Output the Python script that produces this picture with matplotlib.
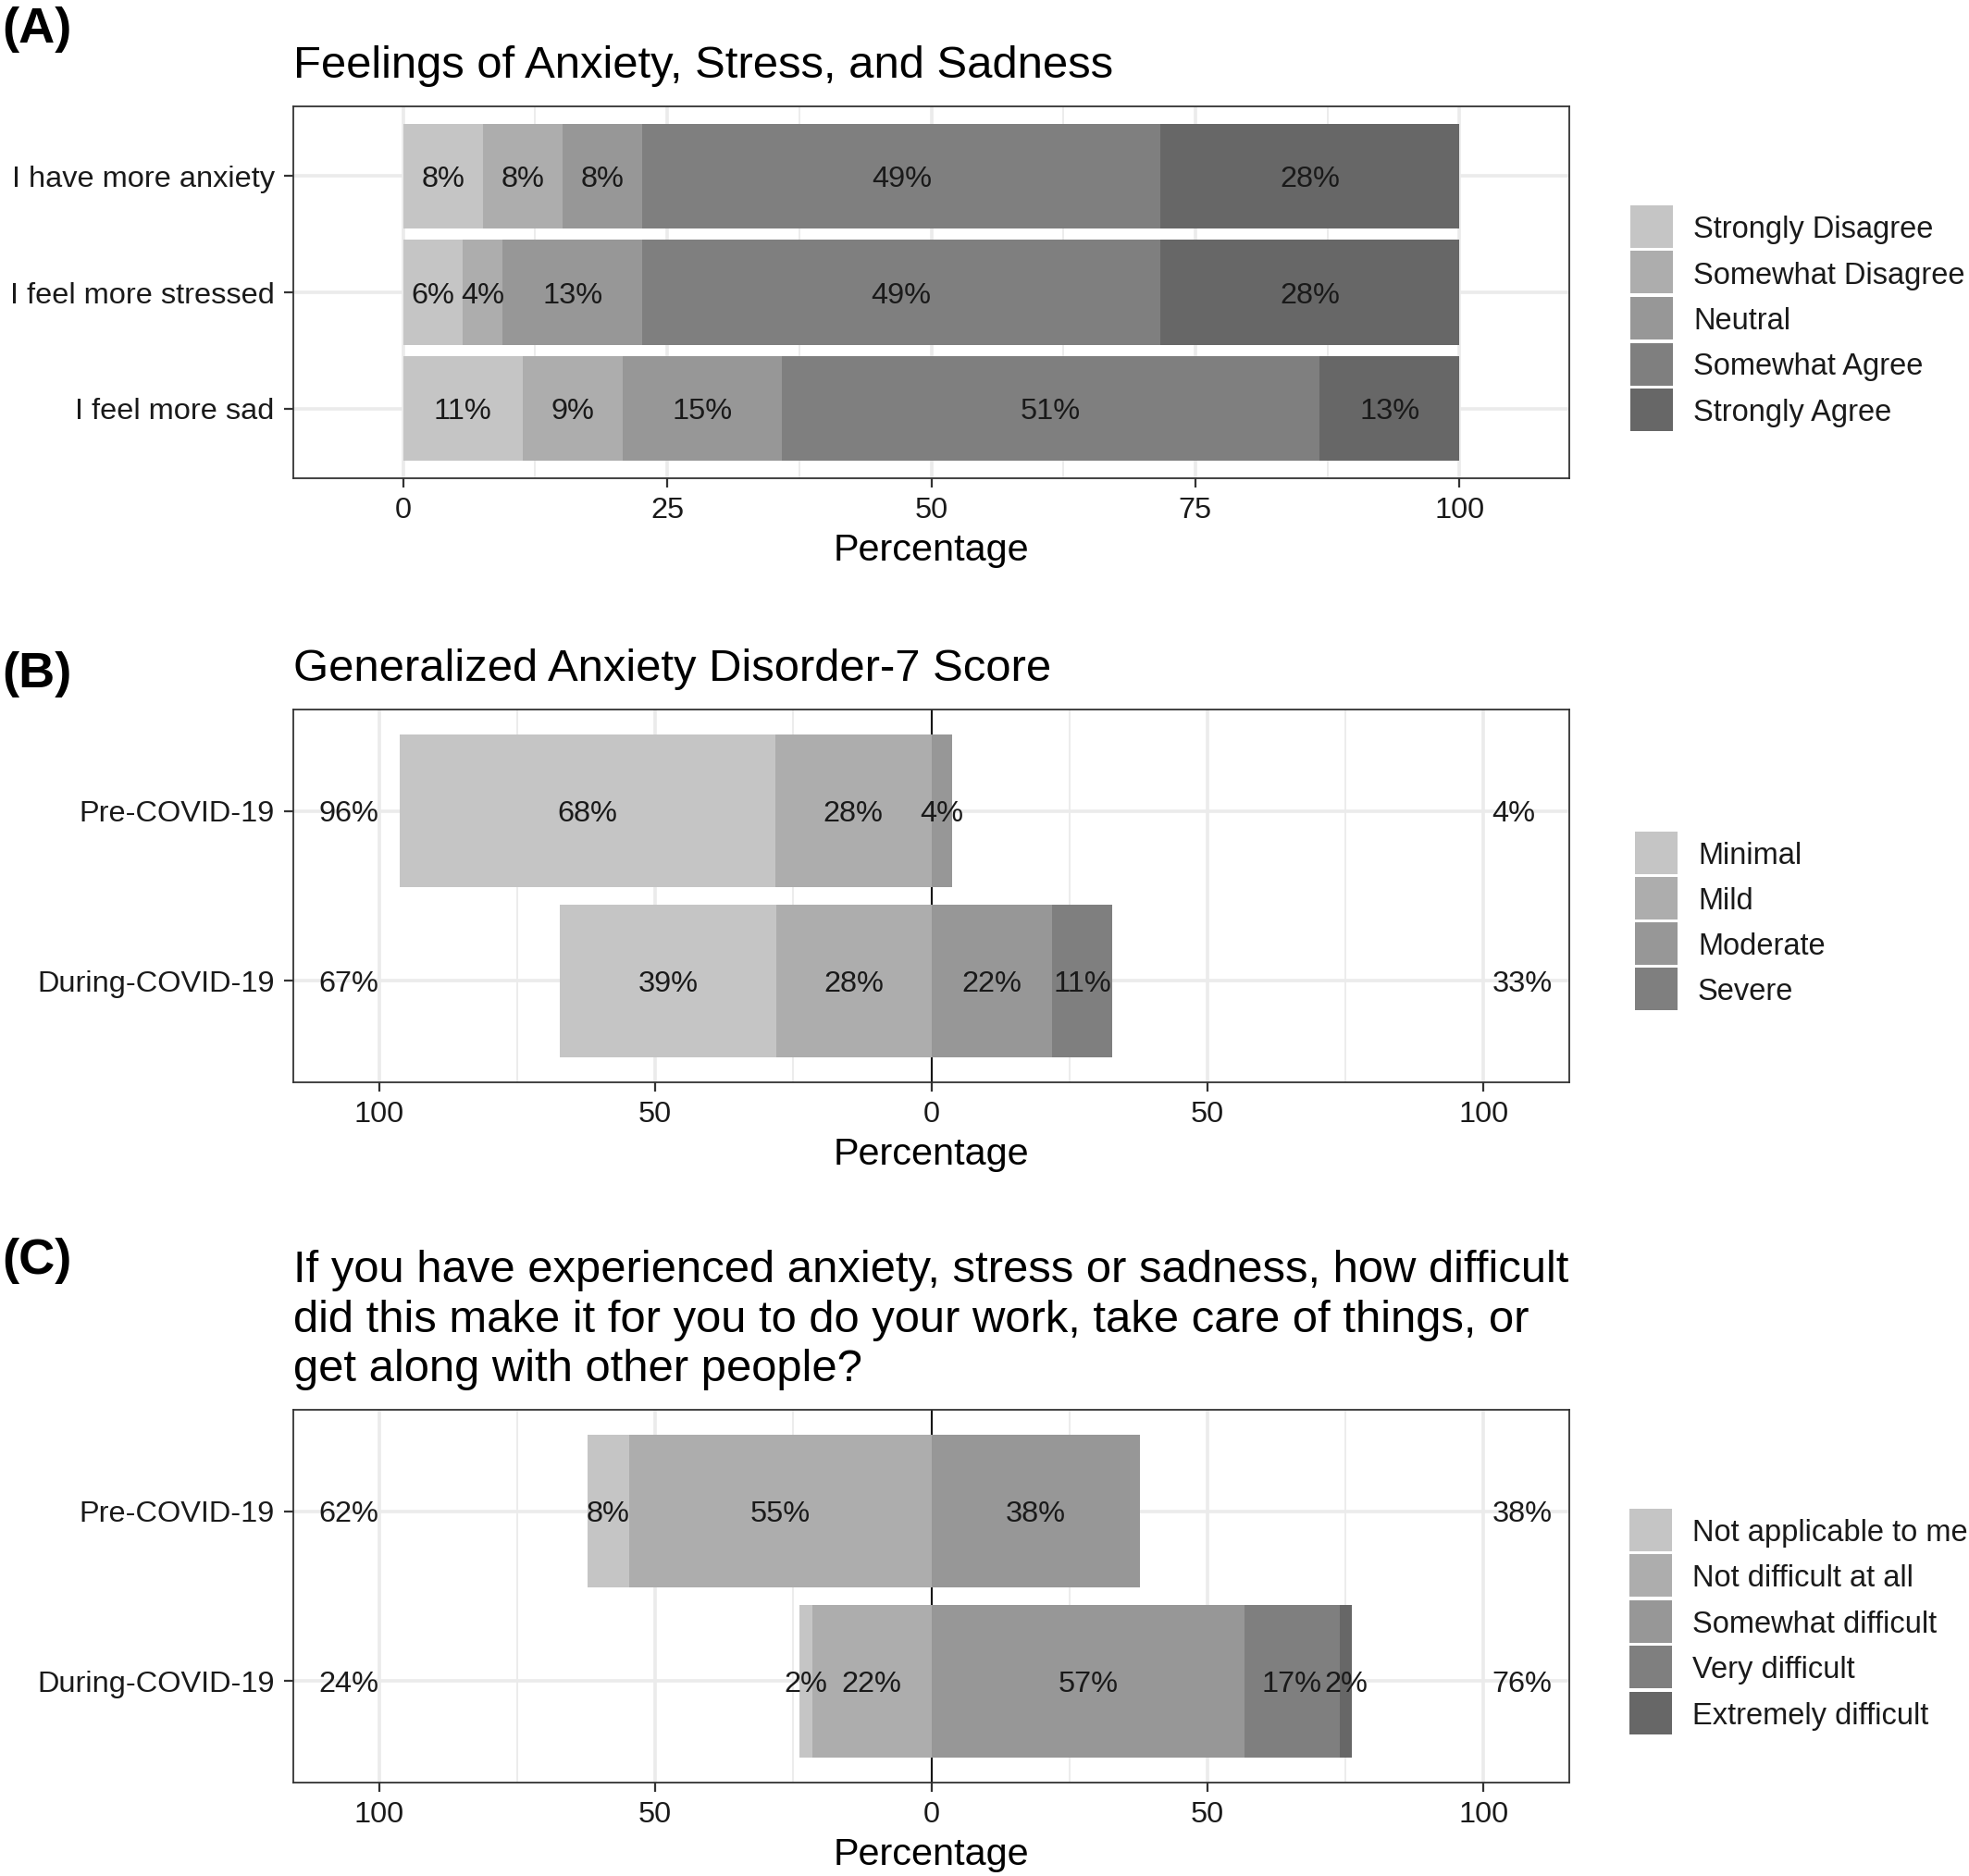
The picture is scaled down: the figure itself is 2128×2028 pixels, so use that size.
import numpy as np
import matplotlib.pyplot as plt
from matplotlib.patches import Rectangle
from matplotlib.ticker import FuncFormatter

plt.rcParams['font.family'] = ['Liberation Sans', 'DejaVu Sans']

W, H = 2128, 2028

greys = ['#C5C5C5', '#ADADAD', '#979797', '#7F7F7F', '#676767']

# (A) feelings, percent of respondents per answer
questions = ['I have more anxiety', 'I feel more stressed', 'I feel more sad']
likert_levels = ['Strongly Disagree', 'Somewhat Disagree', 'Neutral',
                 'Somewhat Agree', 'Strongly Agree']
anxiety = [7.55, 7.55, 7.55, 49.06, 28.30]
stressed = [5.66, 3.77, 13.21, 49.06, 28.30]
sad = [11.32, 9.43, 15.09, 50.94, 13.21]

# (B) GAD-7
periods = ['Pre-COVID-19', 'During-COVID-19']
gad_levels = ['Minimal', 'Mild', 'Moderate', 'Severe']
gad_pre = [67.92, 28.30, 3.77, 0.0]
gad_during = [39.06, 28.13, 21.88, 10.94]

# (C) difficulty
diff_levels = ['Not applicable to me', 'Not difficult at all', 'Somewhat difficult',
               'Very difficult', 'Extremely difficult']
diff_pre = [7.55, 54.72, 37.74, 0.0, 0.0]
diff_during = [2.3, 21.6, 56.7, 17.2, 2.3]

title_a = 'Feelings of Anxiety, Stress, and Sadness'
title_b = 'Generalized Anxiety Disorder-7 Score'
title_c = ('If you have experienced anxiety, stress or sadness, how difficult\n'
           'did this make it for you to do your work, take care of things, or\n'
           'get along with other people?')

TXT = 23.4


def px_axes(fig, left, top, right, bottom):
    return fig.add_axes([left / W, 1 - bottom / H, (right - left) / W, (bottom - top) / H])


def style_axes(ax, xlim, major, minor, ylabels):
    n = len(ylabels)
    ax.set_xlim(*xlim)
    ax.set_ylim(n - 0.4, -0.6)
    ax.set_yticks(range(n))
    ax.set_yticklabels(ylabels)
    ax.set_xticks(major)
    ax.set_xticks(minor, minor=True)
    ax.grid(True, which='major', color='#EBEBEB', lw=2.6)
    ax.grid(True, which='minor', axis='x', color='#EBEBEB', lw=1.3)
    ax.set_axisbelow(True)
    for s in ax.spines.values():
        s.set_color('#333333')
        s.set_linewidth(1.3)
    ax.tick_params(which='major', length=7.2, width=1.6, color='#333333',
                   labelsize=TXT, labelcolor='#1a1a1a', pad=7.5)
    ax.tick_params(which='minor', length=0)
    ax.set_xlabel('Percentage', fontsize=29.8, labelpad=6)


def seg_label(ax, x, y, v):
    if v >= 0.5:
        ax.text(x, y, f'{v:.0f}%', ha='center', va='center_baseline',
                fontsize=TXT, color='#1a1a1a', zorder=4)


def stacked(ax, rows, levels):
    rows = np.array(rows)
    y = np.arange(len(rows))
    lefts = np.zeros(len(rows))
    for j, lev in enumerate(levels):
        ax.barh(y, rows[:, j], left=lefts, height=0.9, color=greys[j], zorder=2)
        for i in y:
            seg_label(ax, lefts[i] + rows[i, j] / 2, i, rows[i, j])
        lefts = lefts + rows[:, j]


def diverging(ax, rows, levels, n_left):
    rows = np.array(rows)
    y = np.arange(len(rows))
    left_tot = rows[:, :n_left].sum(axis=1)
    right_tot = rows[:, n_left:].sum(axis=1)
    lefts = -left_tot
    for j, lev in enumerate(levels):
        ax.barh(y, rows[:, j], left=lefts, height=0.9, color=greys[j], zorder=2)
        for i in y:
            seg_label(ax, lefts[i] + rows[i, j] / 2, i, rows[i, j])
        lefts = lefts + rows[:, j]
    # totals of each side, outside the bars
    for i in y:
        ax.text(-100, i, f'{left_tot[i]:.0f}%', ha='right', va='center_baseline',
                fontsize=TXT, color='#1a1a1a')
        ax.text(101.5, i, f'{right_tot[i]:.0f}%', ha='left', va='center_baseline',
                fontsize=TXT, color='#1a1a1a')
    ax.axvline(0, color='#111111', lw=1.4, zorder=1)
    ax.xaxis.set_major_formatter(FuncFormatter(lambda v, p: f'{abs(v):g}'))


def add_legend(fig, levels, x, y, key=46, pitch=49.5):
    # ggplot-like legend: square grey keys, labels on the right
    for i, lev in enumerate(levels):
        top = y + i * pitch
        fig.add_artist(Rectangle((x / W, 1 - (top + key) / H), key / W, key / H,
                                 transform=fig.transFigure, facecolor=greys[i],
                                 edgecolor='none'))
        fig.text((x + key + 22) / W, 1 - (top + key / 2) / H, lev, fontsize=23.5,
                 color='#1a1a1a', ha='left', va='center_baseline')


fig = plt.figure(figsize=(W / 100, H / 100), dpi=100, facecolor='white')

# panel A
ax_a = px_axes(fig, 317, 115, 1696, 517)
stacked(ax_a, [anxiety, stressed, sad], likert_levels)
style_axes(ax_a, (-10.4, 110.4), [0, 25, 50, 75, 100], [12.5, 37.5, 62.5, 87.5], questions)
ax_a.set_title(title_a, loc='left', fontsize=35.3, pad=22)
add_legend(fig, likert_levels, 1762, 222)

# panel B
ax_b = px_axes(fig, 317, 767, 1696, 1170)
diverging(ax_b, [gad_pre, gad_during], gad_levels, 2)
style_axes(ax_b, (-115.5, 115.5), [-100, -50, 0, 50, 100], [-75, -25, 25, 75], periods)
ax_b.set_title(title_b, loc='left', fontsize=35.3, pad=22)
add_legend(fig, gad_levels, 1767, 899, pitch=49)

# panel C
ax_c = px_axes(fig, 317, 1524, 1696, 1927)
diverging(ax_c, [diff_pre, diff_during], diff_levels, 2)
style_axes(ax_c, (-115.5, 115.5), [-100, -50, 0, 50, 100], [-75, -25, 25, 75], periods)
ax_c.set_title(title_c, loc='left', fontsize=35.3, pad=22, linespacing=1.25)
add_legend(fig, diff_levels, 1761, 1631, pitch=49.4)

for lab, top in [('(A)', 7), ('(B)', 704), ('(C)', 1338)]:
    fig.text(2 / W, 1 - top / H, lab, fontsize=39, fontweight='bold', va='top', ha='left')

fig.savefig('out.png', dpi=100, facecolor='white')
